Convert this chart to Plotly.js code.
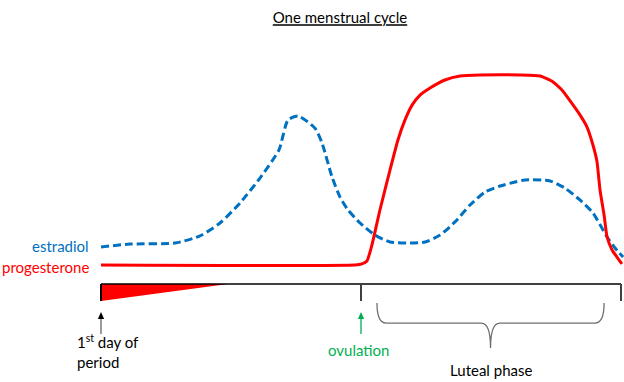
<!DOCTYPE html>
<html><head><meta charset="utf-8">
<script src="https://cdn.plot.ly/plotly-3.0.1.min.js"></script>
<style>html,body{margin:0;padding:0;background:#fff}#chart{width:624px;height:382px}</style>
</head><body><div id="chart"></div>
<script>
// Cycle day (0 = first day of period, 28 = end of cycle) and relative hormone level (0-100)
const estradiolDays   = [0, 1.56, 3.98, 5.33, 6.41, 7.49, 8.56, 9.58, 10.07, 10.61, 11.52, 11.90, 12.44, 12.87, 13.30, 13.95, 14.75, 15.56, 16.64, 17.45, 18.26, 19.06, 19.87, 20.68, 21.49, 22.30, 22.83, 24.18, 24.98, 25.79, 26.49, 27.25, 27.68, 28.11];
const estradiolLevels = [17.7, 19.1, 19.6, 23.0, 29.2, 38.8, 50.7, 64.1, 78.5, 80.4, 74.6, 67.5, 51.2, 41.6, 35.4, 29.2, 23.4, 20.1, 19.6, 20.1, 23.4, 29.7, 37.8, 44.0, 46.9, 48.8, 49.8, 49.3, 45.9, 40.2, 34.0, 22.5, 17.2, 12.9];
const progesteroneDays   = [0, 13.68, 14.05, 14.32, 14.59, 15.02, 15.56, 15.99, 16.37, 16.75, 17.18, 17.72, 18.52, 19.33, 20.41, 22.56, 23.64, 24.34, 24.82, 25.26, 25.79, 26.17, 26.49, 26.71, 26.87, 27.09, 27.25, 27.52, 27.78, 28.05];
const progesteroneLevels = [9.1, 9.1, 9.6, 11.0, 18.7, 35.4, 54.5, 68.9, 78.5, 85.6, 90.4, 93.8, 97.6, 99.5, 100, 100, 99.5, 96.7, 92.8, 87.6, 80.9, 75.1, 66.5, 58.4, 45.0, 33.0, 22.5, 16.3, 12.9, 9.6];
const seriesNames = ["estradiol", "progesterone"];
const cycleMarks = [0, 14, 28];           // start, ovulation, end of cycle
const menstruationEnd = 6.84;             // where the period wedge tapers out
const lutealPhase = [14.86, 27.09];       // brace span

const FONT = "Lato, 'Open Sans', sans-serif";
const BLUE = "#0070C0", RED = "#FF0000", GREEN = "#00B050";

const traces = [
  {x: estradiolDays, y: estradiolLevels, name: seriesNames[0], mode: "lines",
   line: {color: BLUE, width: 3, dash: "8px,4px", shape: "spline", smoothing: 0.6}, hoverinfo: "skip"},
  {x: progesteroneDays, y: progesteroneLevels, name: seriesNames[1], mode: "lines",
   line: {color: RED, width: 3, shape: "spline", smoothing: 0.5}, hoverinfo: "skip"}
];

const shapes = [];
// wedge for menstruation
shapes.push({type: "path", xref: "x", yref: "y",
  path: `M 0 0 L ${menstruationEnd} 0 L 0 -8.1 Z`, fillcolor: RED, line: {width: 0}});
// timeline
shapes.push({type: "line", xref: "x", yref: "y", x0: cycleMarks[0], x1: cycleMarks[2], y0: 0, y1: 0,
  line: {color: "#000", width: 1.5}});
cycleMarks.forEach(d => shapes.push({type: "line", xref: "x", yref: "y", x0: d, x1: d, y0: 0, y1: -8.1,
  line: {color: d === 0 ? "#000" : "#404040", width: 2}}));
// arrows under the start of the period and under ovulation
function arrow(d, shaftColor, headColor) {
  const tip = -13.4, base = -16.7, tail = -23.9, hw = 0.17;
  shapes.push({type: "line", xref: "x", yref: "y", x0: d, x1: d, y0: base, y1: tail, line: {color: shaftColor, width: 1.3}});
  shapes.push({type: "path", xref: "x", yref: "y", path: `M ${d} ${tip} L ${d - hw} ${base} L ${d + hw} ${base} Z`,
    fillcolor: headColor, line: {width: 0}});
}
arrow(cycleMarks[0], "#666", "#000");
arrow(cycleMarks[1], GREEN, GREEN);
// brace
{
  const a = lutealPhase[0], b = lutealPhase[1], m = (a + b) / 2;
  const top = -9.1, mid = -18.7, tip = -30.6, r = 0.25;
  shapes.push({type: "path", xref: "x", yref: "y",
    path: `M ${a} ${top} Q ${a} ${mid} ${a + r * 2} ${mid} L ${m - r * 2} ${mid} Q ${m} ${mid} ${m} ${tip} ` +
          `Q ${m} ${mid} ${m + r * 2} ${mid} L ${b - r * 2} ${mid} Q ${b} ${mid} ${b} ${top}`,
    line: {color: "#6f6f6f", width: 1.3}});
}

const annotations = [
  {x: -0.55, y: 18, text: seriesNames[0], showarrow: false, xanchor: "right", yanchor: "middle", font: {color: BLUE, size: 15, family: FONT}},
  {x: -0.55, y: 8.1, text: seriesNames[1], showarrow: false, xanchor: "right", yanchor: "middle", font: {color: RED, size: 15, family: FONT}},
  {x: -1.4, y: -32.5, text: "1<sup>st</sup> day of<br>period", align: "left", showarrow: false, xanchor: "left", yanchor: "middle", font: {color: "#000", size: 15, family: FONT}},
  {x: -0.15 + cycleMarks[1], y: -31.6, text: "ovulation", showarrow: false, xanchor: "center", yanchor: "middle", font: {color: GREEN, size: 15, family: FONT}},
  {x: (lutealPhase[0] + lutealPhase[1]) / 2, y: -41.1, text: "Luteal phase", showarrow: false, xanchor: "center", yanchor: "middle", font: {color: "#000", size: 15, family: FONT}}
];

const layout = {
  width: 624, height: 382, margin: {l: 0, r: 0, t: 0, b: 0},
  paper_bgcolor: "#fff", plot_bgcolor: "#fff", showlegend: false,
  title: {text: "One menstrual cycle", x: 340 / 624, y: 1 - 18 / 382, xanchor: "center", yanchor: "middle",
          font: {family: FONT, size: 15, color: "#000", lineposition: "under"}},
  xaxis: {range: [-5.438, 28.1615], visible: false, fixedrange: true},
  yaxis: {range: [-46.89, 135.89], visible: false, fixedrange: true},
  shapes, annotations
};
Plotly.newPlot("chart", traces, layout, {displayModeBar: false, staticPlot: true});
</script></body></html>
